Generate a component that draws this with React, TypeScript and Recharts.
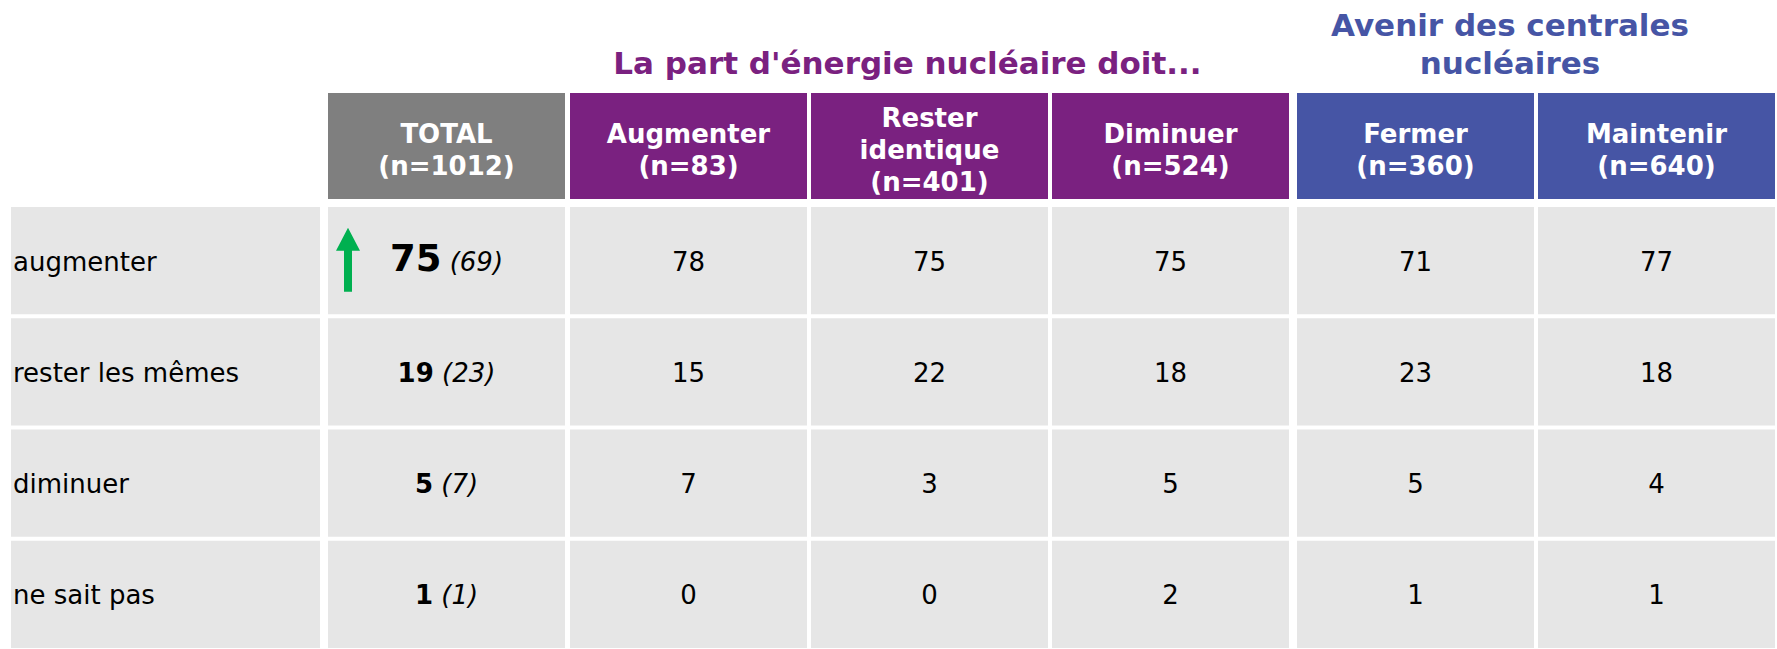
import { ScatterChart, Scatter, XAxis, YAxis } from 'recharts';

// row labels (answers) and column groups
const rows = ['augmenter', 'rester les mêmes', 'diminuer', 'ne sait pas'];
const columns = ['TOTAL', 'Augmenter', 'Rester identique', 'Diminuer', 'Fermer', 'Maintenir'];
const columnN = [1012, 83, 401, 524, 360, 640];
const columnGroup = [0, 1, 1, 1, 2, 2];

// values per column, in the order of rows
const total = [75, 19, 5, 1];
const totalPrevious = [69, 23, 7, 1];
const totalTrend = ['up', null, null, null];
const augmenter = [78, 15, 7, 0];
const resterIdentique = [75, 22, 3, 0];
const diminuer = [75, 18, 5, 2];
const fermer = [71, 23, 5, 1];
const maintenir = [77, 18, 4, 1];

const columnValues = [total, augmenter, resterIdentique, diminuer, fermer, maintenir];

const groups = [
  { title: [] as string[], color: '#7f7f7f', shift: 0 },
  { title: ["La part d'énergie nucléaire doit..."], color: '#7a2180', shift: 1 },
  { title: ['Avenir des centrales', 'nucléaires'], color: '#4655a5', shift: 5 },
];

const cellData = rows.flatMap((row, r) =>
  columns.map((col, c) => ({
    col: c,
    row: r,
    value: columnValues[c][r],
    previous: c === 0 ? totalPrevious[r] : null,
    trend: c === 0 ? totalTrend[r] : null,
  }))
);

const W = 1777;
const H = 649;
const FONT = '"DejaVu Sans", Verdana, sans-serif';
const AXIS_W = 328;
const MARGIN = { top: 93, right: 3, bottom: -3, left: 0 };
const HEADER_H = 114;
const BAND_X = (W - AXIS_W - MARGIN.right) / columns.length;
const BAND_Y = (H - MARGIN.top - HEADER_H - MARGIN.bottom) / rows.length;
const CELL_W = BAND_X - 4;
const CELL_H = BAND_Y - 4;
const CELL_BG = '#e6e6e6';

const cellLeft = (col: number, cx: number) => cx - BAND_X / 2 + groups[columnGroup[col]].shift;

function HeaderTick(props: any) {
  const { x, payload } = props;
  const c = payload.value as number;
  const g = groups[columnGroup[c]];
  const left = cellLeft(c, x);
  const lines = [...columns[c].split(' '), `(n=${columnN[c]})`];
  const mid = 159;
  const groupCols = columnGroup.filter((v) => v === columnGroup[c]).length;
  const firstInGroup = columnGroup.indexOf(columnGroup[c]) === c;
  const titleX = x + ((groupCols - 1) * BAND_X) / 2 - 23;
  return (
    <g>
      {firstInGroup &&
        g.title.map((t, k) => (
          <text
            key={k}
            x={titleX}
            y={74 - (g.title.length - 1 - k) * 38}
            textAnchor="middle"
            fontFamily={FONT}
            fontWeight="bold"
            fontSize={31}
            fill={g.color}
          >
            {t}
          </text>
        ))}
      <rect x={left} y={93} width={CELL_W} height={106} fill={g.color} />
      {lines.map((t, k) => (
        <text
          key={k}
          x={left + CELL_W / 2}
          y={mid + (k - (lines.length - 1) / 2) * 32}
          textAnchor="middle"
          fontFamily={FONT}
          fontWeight="bold"
          fontSize={26}
          fill="#ffffff"
        >
          {t}
        </text>
      ))}
    </g>
  );
}

function RowTick(props: any) {
  const { y, payload } = props;
  const top = y - BAND_Y / 2;
  return (
    <g>
      <rect x={11} y={top} width={309} height={CELL_H} fill={CELL_BG} />
      <text x={13} y={top + CELL_H / 2 + 10} fontFamily={FONT} fontSize={26} fill="#000">
        {rows[payload.value]}
      </text>
    </g>
  );
}

function ValueCell(props: any) {
  const { cx, cy, payload } = props;
  const left = cellLeft(payload.col, cx);
  const top = cy - BAND_Y / 2;
  const mx = left + CELL_W / 2;
  const my = top + CELL_H / 2;
  const up = payload.trend === 'up';
  return (
    <g>
      <rect x={left} y={top} width={CELL_W} height={CELL_H} fill={CELL_BG} />
      {up && (
        <polygon
          fill="#00b050"
          points={[
            [left + 20, my - 33],
            [left + 32, my - 10],
            [left + 24, my - 10],
            [left + 24, my + 31],
            [left + 16, my + 31],
            [left + 16, my - 10],
            [left + 8, my - 10],
          ]
            .map((p) => p.join(','))
            .join(' ')}
        />
      )}
      {payload.previous != null ? (
        <text x={mx} y={my + 10} textAnchor="middle" fontFamily={FONT} fontSize={26} fill="#000">
          <tspan fontWeight="bold" fontSize={up ? 37 : 26}>
            {payload.value}
          </tspan>
          <tspan fontStyle="italic">{` (${payload.previous})`}</tspan>
        </text>
      ) : (
        <text x={mx} y={my + 10} textAnchor="middle" fontFamily={FONT} fontSize={26} fill="#000">
          {payload.value}
        </text>
      )}
    </g>
  );
}

export default function App() {
  return (
    <div style={{ width: W, height: H, background: '#fff', overflow: 'hidden' }}>
      <style>{'body{margin:0}'}</style>
      <ScatterChart width={W} height={H} margin={MARGIN}>
        <XAxis
          type="number"
          dataKey="col"
          orientation="top"
          domain={[-0.5, columns.length - 0.5]}
          ticks={columns.map((_, i) => i)}
          height={HEADER_H}
          axisLine={false}
          tickLine={false}
          tick={<HeaderTick />}
          interval={0}
        />
        <YAxis
          type="number"
          dataKey="row"
          reversed
          domain={[-0.5, rows.length - 0.5]}
          ticks={rows.map((_, i) => i)}
          width={AXIS_W}
          axisLine={false}
          tickLine={false}
          tick={<RowTick />}
          interval={0}
        />
        <Scatter data={cellData} shape={<ValueCell />} isAnimationActive={false} />
      </ScatterChart>
    </div>
  );
}
